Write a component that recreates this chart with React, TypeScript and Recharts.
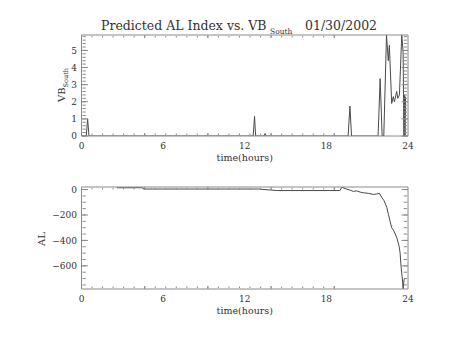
import { LineChart, Line, XAxis, YAxis } from "recharts";

// VB south (top panel), hours vs value
const vbTime = [
  0, 0.35, 0.45, 0.55, 12.62, 12.72, 12.8, 13.42, 13.5, 13.58, 19.6, 19.73,
  19.85, 21.8, 21.95, 22.1, 22.22, 22.42, 22.55, 22.63, 22.8, 22.92, 23.0,
  23.17, 23.25, 23.37, 23.54, 23.64, 23.7, 23.74, 23.78, 23.82,
];
const vbValue = [
  0, 0, 1.0, 0, 0, 1.15, 0, 0, 0.15, 0, 0, 1.75, 0, 0, 3.35, 0, 0, 5.9, 4.4,
  5.3, 1.9, 2.3, 2.0, 2.6, 2.2, 2.4, 5.9, 4.9, 0, 2.4, 0, 2.3,
];

// predicted AL index (bottom panel)
const alTime = [
  2.6, 4.5, 4.55, 13.0, 14.4, 19.0, 19.13, 19.37, 19.74, 19.99, 20.2, 20.48,
  20.7, 21.09, 21.46, 21.7, 21.9, 22.07, 22.24, 22.44, 22.56, 22.68, 22.8,
  22.97, 23.18, 23.35, 23.42, 23.49, 23.57, 23.64, 23.71, 23.79,
];
const alValue = [
  14, 14, 4, 4, -8, -8, 18, 8, -5, -15, -10, -20, -25, -30, -38, -35, -30, -62,
  -88, -140, -195, -248, -300, -327, -380, -446, -500, -605, -685, -780, -710,
  -695,
];

const hourTicks = [0, 6, 12, 18, 24];
const vbTicks = [0, 1, 2, 3, 4, 5];
const alTicks = [-600, -400, -200, 0];

function steps(from: number, to: number, step: number) {
  const out: number[] = [];
  for (let v = from; v <= to + 1e-9; v += step) out.push(Math.round(v * 1000) / 1000);
  return out;
}
const hourMinor = steps(0, 24, 1);
const vbMinor = steps(0, 5.8, 0.2);
const alMinor = steps(-750, 0, 50);

const FONT = "DejaVu Serif";
const AXIS = "#8a8a8a";
const INK = "#333";
const LINE = "#4a4a4a";
const tickStyle = { fontSize: 9, fill: INK, fontFamily: FONT };

const vbData = vbTime.map((t, i) => ({ t, v: vbValue[i] }));
const alData = alTime.map((t, i) => ({ t, v: alValue[i] }));

const minus = (v: number) => (v < 0 ? `\u2212${-v}` : `${v}`);
const NoLabel = () => <g />;

interface PanelProps {
  data: { t: number; v: number }[];
  top: number;
  marginTop: number;
  marginBottom: number;
  yDomain: [number, number];
  yTicks: number[];
  yMinor: number[];
}

function Panel({ data, top, marginTop, marginBottom, yDomain, yTicks, yMinor }: PanelProps) {
  const common = { type: "number" as const, allowDataOverflow: true, interval: 0 as const };
  const tl = { stroke: AXIS };
  const bare = { mirror: true, tick: NoLabel, tickLine: tl, axisLine: false as const };
  return (
    <div style={{ position: "absolute", left: 0, top }}>
      <LineChart
        width={454}
        height={170}
        data={data}
        margin={{ top: marginTop, right: 46, bottom: marginBottom, left: 41.5 }}
      >
        {/* labelled axes */}
        <XAxis
          {...common}
          xAxisId="x"
          dataKey="t"
          domain={[0, 24]}
          ticks={hourTicks}
          height={28}
          tickLine={false}
          tickSize={0}
          tickMargin={7}
          axisLine={tl}
          tick={tickStyle}
        />
        <YAxis
          {...common}
          yAxisId="y"
          domain={yDomain}
          ticks={yTicks}
          width={40}
          tickLine={false}
          tickSize={0}
          tickMargin={4.5}
          axisLine={tl}
          tick={tickStyle}
          tickFormatter={minus}
        />
        {/* inward tick marks on all four sides (mirror axes, no labels) */}
        <XAxis {...common} {...bare} xAxisId="xb1" domain={[0, 24]} ticks={hourTicks} height={1} tickSize={3} />
        <XAxis {...common} {...bare} xAxisId="xb2" domain={[0, 24]} ticks={hourMinor} height={1} tickSize={1.5} />
        <XAxis {...common} {...bare} xAxisId="xt1" orientation="top" domain={[0, 24]} ticks={hourTicks} height={1} tickSize={3} axisLine={tl} />
        <XAxis {...common} {...bare} xAxisId="xt2" orientation="top" domain={[0, 24]} ticks={hourMinor} height={1} tickSize={1.5} />
        <YAxis {...common} {...bare} yAxisId="yl1" domain={yDomain} ticks={yTicks} width={1} tickSize={6.5} />
        <YAxis {...common} {...bare} yAxisId="yl2" domain={yDomain} ticks={yMinor} width={1} tickSize={3.3} />
        <YAxis {...common} {...bare} yAxisId="yr1" orientation="right" domain={yDomain} ticks={yTicks} width={1} tickSize={6.5} axisLine={tl} />
        <YAxis {...common} {...bare} yAxisId="yr2" orientation="right" domain={yDomain} ticks={yMinor} width={1} tickSize={3.3} />
        <Line
          xAxisId="x"
          yAxisId="y"
          type="linear"
          dataKey="v"
          stroke={LINE}
          strokeWidth={1}
          dot={false}
          activeDot={false}
          isAnimationActive={false}
        />
      </LineChart>
    </div>
  );
}

export default function App() {
  return (
    <div
      style={{
        position: "absolute",
        left: 0,
        top: 0,
        width: 454,
        height: 341,
        background: "#fff",
        overflow: "hidden",
      }}
    >
      <Panel
        data={vbData}
        top={0}
        marginTop={35}
        marginBottom={6}
        yDomain={[0, 5.9]}
        yTicks={vbTicks}
        yMinor={vbMinor}
      />
      <Panel
        data={alData}
        top={152}
        marginTop={35}
        marginBottom={5}
        yDomain={[-782, 20]}
        yTicks={alTicks}
        yMinor={alMinor}
      />
      <svg
        width={454}
        height={341}
        style={{ position: "absolute", left: 0, top: 0, pointerEvents: "none" }}
        fontFamily={FONT}
        fill={INK}
      >
        <text x={101} y={29.5} fontSize={12.5}>
          Predicted AL Index vs. VB
        </text>
        <text x={270} y={34} fontSize={7.5}>
          South
        </text>
        <text x={305} y={29.5} fontSize={12.5}>
          01/30/2002
        </text>
        <text transform="translate(65,85) rotate(-90)" textAnchor="middle" fontSize={10}>
          <tspan>VB</tspan>
          <tspan dy={3} fontSize={6.5}>
            South
          </tspan>
        </text>
        <text transform="translate(45,239) rotate(-90)" textAnchor="middle" fontSize={10}>
          AL
        </text>
        <text x={244.75} y={161} textAnchor="middle" fontSize={9.5}>
          time(hours)
        </text>
        <text x={244.75} y={314} textAnchor="middle" fontSize={9.5}>
          time(hours)
        </text>
      </svg>
    </div>
  );
}
